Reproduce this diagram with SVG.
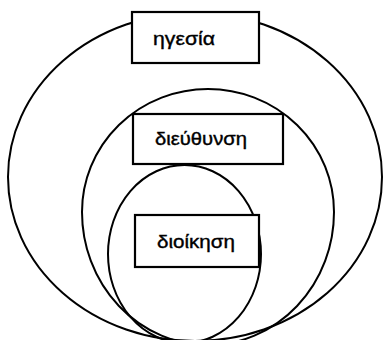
<svg xmlns="http://www.w3.org/2000/svg" width="384" height="340" viewBox="0 0 384 340">
  <style>
    .ring { fill: none; stroke: #000; stroke-width: 2; }
    .box { fill: #fff; stroke: #000; stroke-width: 2.2; }
    .lbl { font-family: "Liberation Sans", Arial, "DejaVu Sans", sans-serif; font-size: 19px; fill: #000; stroke: #000; stroke-width: 0.4; }
  </style>
  <rect x="0" y="0" width="384" height="340" fill="#fff"/>
  <g id="node-igesia">
    <ellipse class="ring" cx="195" cy="177" rx="187" ry="164"/>
    <rect class="box" x="132" y="12" width="127" height="51"/>
    <text class="lbl" x="153" y="45" textLength="62" lengthAdjust="spacingAndGlyphs">ηγεσία</text>
  </g>
  <g id="node-dieythynsi">
    <path class="ring" d="M 82,212 A 126,123 0 0 1 334,212 A 126,133 0 0 1 82,212 Z"/>
    <rect class="box" x="133" y="114" width="150" height="50"/>
    <text class="lbl" x="155" y="145" textLength="92" lengthAdjust="spacingAndGlyphs">διεύθυνση</text>
  </g>
  <g id="node-dioikisi">
    <ellipse class="ring" cx="184.5" cy="254" rx="76.5" ry="89"/>
    <rect class="box" x="135" y="215" width="124" height="52"/>
    <text class="lbl" x="157" y="248" textLength="78" lengthAdjust="spacingAndGlyphs">διοίκηση</text>
  </g>
</svg>
